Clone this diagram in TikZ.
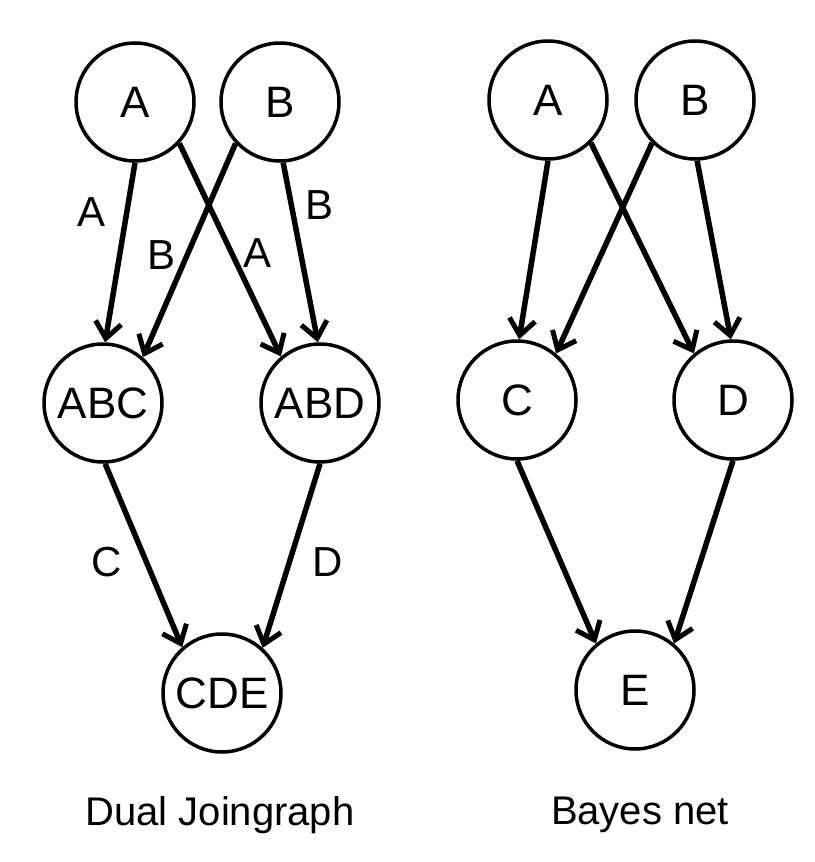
\documentclass[tikz,border=0pt]{standalone}
\usepackage{fontspec}
\setmainfont{Liberation Sans}
\usetikzlibrary{arrows.meta}
\begin{document}
\begin{tikzpicture}[x=1pt,y=-1pt,
  nd/.style={circle,draw,line width=3.5pt,minimum size=118pt,inner sep=0pt,font=\fontsize{44}{44}\selectfont},
  ar/.style={line width=5.5pt,-{Straight Barb[length=16pt,width=26pt,line width=5pt]}},
  lb/.style={font=\fontsize{42}{42}\selectfont},
  tt/.style={font=\fontsize{40}{40}\selectfont}]
\useasboundingbox (0,0) rectangle (814,862);
\node[nd] (a1) at (135,102) {A};
\node[nd] (b1) at (280,102) {B};
\node[nd] (abc) at (103,403) {ABC};
\node[nd] (abd) at (320,403) {ABD};
\node[nd] (cde) at (222,693) {CDE};
\draw[ar] (a1.-90) -- (abc.88);
\draw[ar] (b1.-137) -- (abc.49);
\draw[ar] (a1.-43) -- (abd.130);
\draw[ar] (b1.-87) -- (abd.92);
\draw[ar] (abc.-88) -- (cde.131);
\draw[ar] (abd.-90) -- (cde.48);
\node[lb] (l1) at (92,212) {A};
\node[lb] (l2) at (162,255) {B};
\node[lb] (l3) at (258,253) {A};
\node[lb] (l4) at (320,205) {B};
\node[lb] (l5) at (107,562) {C};
\node[lb] (l6) at (328,562) {D};
\node[tt] (t1) at (220,815) {Dual Joingraph};
\node[nd] (a2) at (548,100) {A};
\node[nd] (b2) at (695,100) {B};
\node[nd] (c2) at (517,400) {C};
\node[nd] (d2) at (733,400) {D};
\node[nd] (e2) at (635,690) {E};
\draw[ar] (a2.-90) -- (c2.88);
\draw[ar] (b2.-135) -- (c2.50);
\draw[ar] (a2.-45) -- (d2.130);
\draw[ar] (b2.-88) -- (d2.92);
\draw[ar] (c2.-90) -- (e2.130);
\draw[ar] (d2.-90) -- (e2.50);
\node[tt] (t2) at (640,815) {Bayes net};
\end{tikzpicture}
\end{document}
